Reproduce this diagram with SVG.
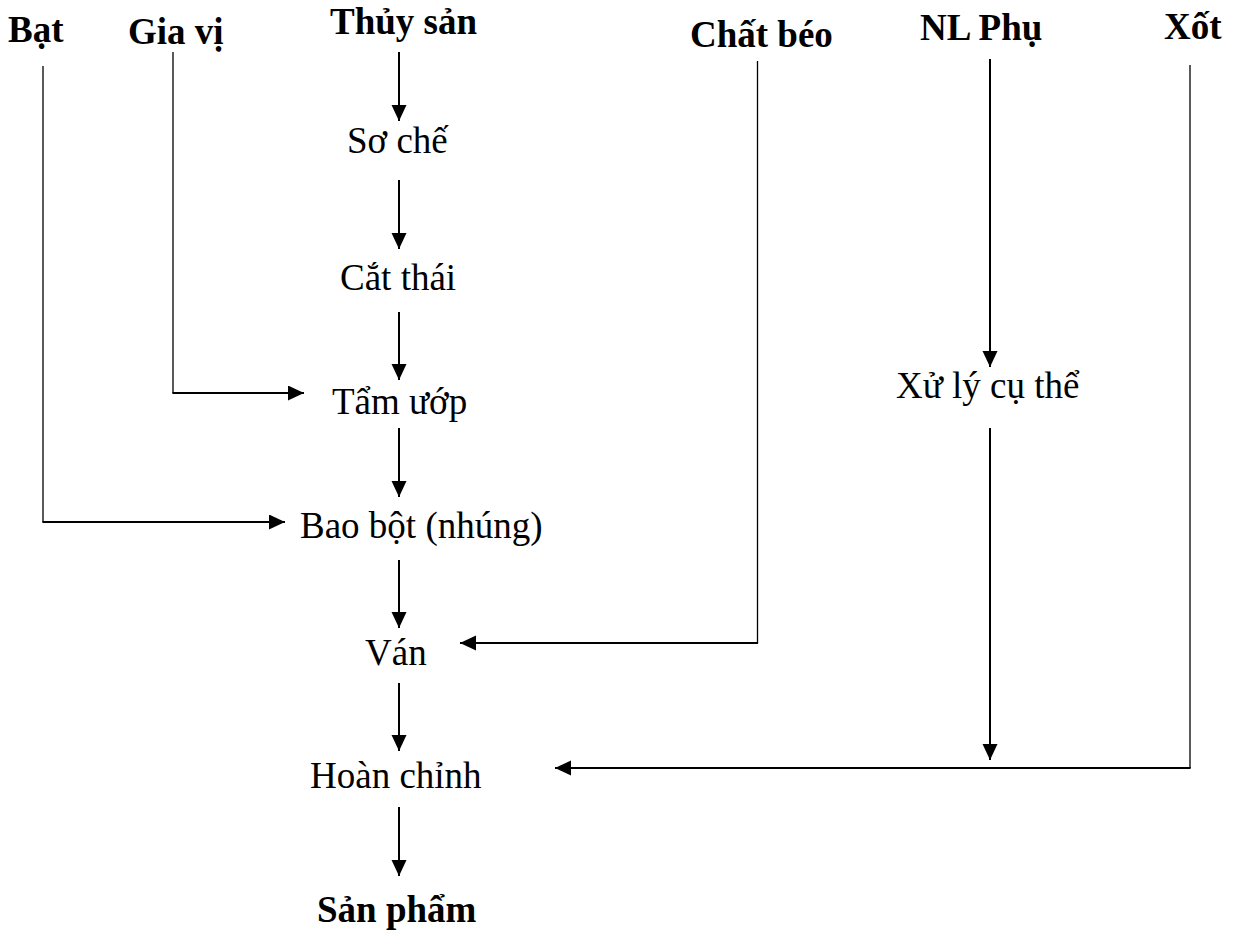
<svg xmlns="http://www.w3.org/2000/svg" width="1234" height="930" viewBox="0 0 1234 930">
<style>
text{font-family:"Liberation Serif","Times New Roman",serif;font-size:37px;fill:#000}
.b{font-weight:bold}
.main{stroke:#000;stroke-width:2;fill:none}
.thin{stroke:#000;stroke-width:1.3;fill:none}
</style>
<defs>
<marker id="ah" markerUnits="userSpaceOnUse" markerWidth="16" markerHeight="16" refX="16" refY="7.5" orient="auto">
<path d="M0,0 L16,7.5 L0,15 Z" fill="#000"/>
</marker>
</defs>
<rect width="1234" height="930" fill="#fff"/>
<g id="n-bat"><text class="b" x="8" y="42">Bạt</text></g>
<g id="n-giavi"><text class="b" x="128" y="44">Gia vị</text></g>
<g id="n-thuysan"><text class="b" x="330" y="34">Thủy sản</text></g>
<g id="n-chatbeo"><text class="b" x="690" y="47">Chất béo</text></g>
<g id="n-nlphu"><text class="b" x="920" y="40">NL Phụ</text></g>
<g id="n-xot"><text class="b" x="1164" y="39">Xốt</text></g>
<g id="n-soche"><text x="347" y="153">Sơ chế</text></g>
<g id="n-catthai"><text x="340" y="290">Cắt thái</text></g>
<g id="n-tamuop"><text x="332" y="414">Tẩm ướp</text></g>
<g id="n-baobot"><text x="300" y="538">Bao bột (nhúng)</text></g>
<g id="n-van"><text x="365" y="665">Ván</text></g>
<g id="n-hoanchinh"><text x="310" y="788">Hoàn chỉnh</text></g>
<g id="n-sanpham"><text class="b" x="317" y="922">Sản phẩm</text></g>
<g id="n-xuly"><text x="896" y="398">Xử lý cụ thể</text></g>
<g id="connectors">
<path class="main" d="M399,52 V121" marker-end="url(#ah)"/>
<path class="main" d="M399,180 V249" marker-end="url(#ah)"/>
<path class="main" d="M399,312 V380" marker-end="url(#ah)"/>
<path class="main" d="M399,428 V497" marker-end="url(#ah)"/>
<path class="main" d="M399,560 V628" marker-end="url(#ah)"/>
<path class="main" d="M399,683 V751" marker-end="url(#ah)"/>
<path class="main" d="M399,807 V876" marker-end="url(#ah)"/>
<path class="thin" d="M173,52 V393"/>
<path class="main" d="M172.4,393 H304" marker-end="url(#ah)"/>
<path class="thin" d="M43,66 V522"/>
<path class="main" d="M42.4,522 H285" marker-end="url(#ah)"/>
<path class="thin" d="M757.5,61 V643"/>
<path class="main" d="M758.1,643 H460" marker-end="url(#ah)"/>
<path class="main" d="M990,59 V367" marker-end="url(#ah)"/>
<path class="main" d="M990,428 V760" marker-end="url(#ah)"/>
<path class="thin" d="M1190,65 V768"/>
<path class="main" d="M1190.6,768 H555" marker-end="url(#ah)"/>
</g>
</svg>
